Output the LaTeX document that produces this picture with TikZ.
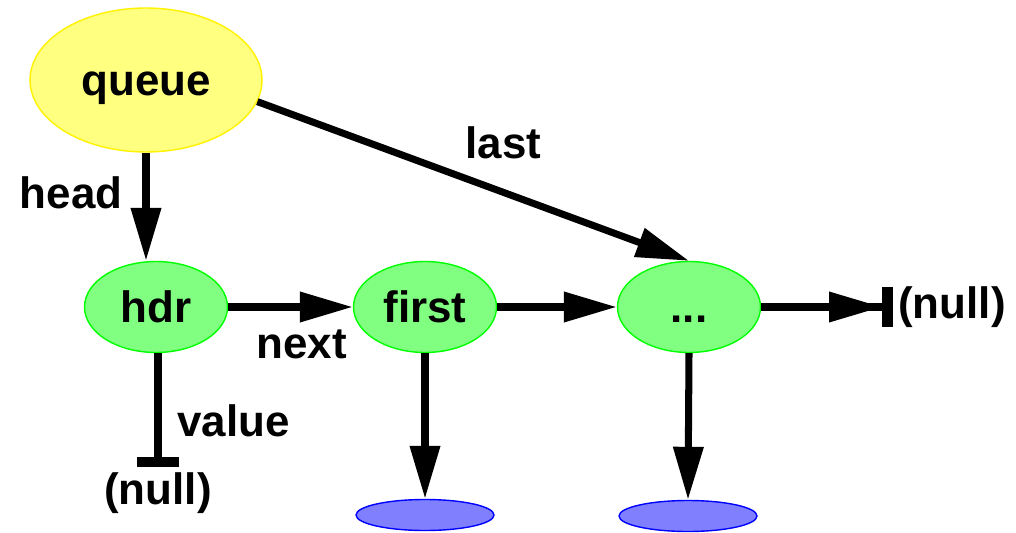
\documentclass[tikz,border=0pt]{standalone}
\usepackage{fontspec}
\setmainfont{Liberation Sans}
\usetikzlibrary{shapes.geometric, arrows.meta}

\definecolor{qyellow}{RGB}{255,255,128}
\definecolor{cgreen}{RGB}{128,255,128}
\definecolor{vblue}{RGB}{128,128,255}

\begin{document}
\begin{tikzpicture}[x=0.02cm, y=-0.02cm, font=\fontsize{25}{30}\selectfont\bfseries]
        \tikzstyle{queuenode} = [ellipse, minimum width=4.64cm, minimum height=2.88cm, inner sep=0, text height=18pt, text depth=0pt, draw=yellow, fill=qyellow, line width=0.8pt]
        \tikzstyle{cell} = [ellipse, minimum width=2.86cm, minimum height=1.82cm, inner sep=0, text height=18pt, text depth=0pt, draw=green, fill=cgreen, line width=0.8pt]
        \tikzstyle{valuenode} = [ellipse, minimum width=2.76cm, minimum height=0.62cm, inner sep=0, draw=blue, fill=vblue, line width=0.8pt]
        \tikzstyle{nulltext} = [inner sep=0.1cm]
        \tikzstyle{arrow} = [line width=4pt, -{Triangle[length=1.06cm, width=0.58cm]}]
        \tikzstyle{labelstyle} = [inner sep=0.1cm]

        \useasboundingbox (0,0) rectangle (1016,533);

        % Nodes
        \node (queue) [queuenode] at (146,80) {queue};
        \node (hdr) [cell] at (156,307) {hdr};
        \node (first) [cell] at (425,307) {first};
        \node (dots) [cell] at (689,307) {...};
        \node (val1) [valuenode] at (425,515) {};
        \node (val2) [valuenode] at (688,516) {};
        \node (nullR) [nulltext, anchor=west] at (893,307) {(null)};
        \node (nullV) [nulltext, anchor=north] at (158,467) {(null)};

        % Arrows
        \draw [arrow] (queue.south) -- node[labelstyle, pos=0.375, anchor=east, xshift=-0.3cm] {head} (queue.south |- hdr.north);
        \draw [arrow] (queue.-11) -- node[labelstyle, pos=0.57, above=0.5cm] {last} (dots.north);
        \draw [arrow] (hdr.east) -- node[labelstyle, pos=0.59, below=0.28cm] {next} (first.west);
        \draw [arrow] (first.east) -- (dots.west);
        \draw [line width=4pt, -{Triangle[length=1.06cm, width=0.58cm] Bar[width=0.8cm, line width=0.22cm]}] (dots.east) -- (nullR.west);
        \draw [arrow] (first.south) -- (val1.north);
        \draw [arrow] (dots.south) -- (val2.north);
        \draw [line width=4pt, -{Bar[width=0.86cm, line width=0.2cm]}] (hdr.south -| nullV.north) -- node[labelstyle, pos=0.59, right=0.22cm] {value} (nullV.north);
\end{tikzpicture}
\end{document}
